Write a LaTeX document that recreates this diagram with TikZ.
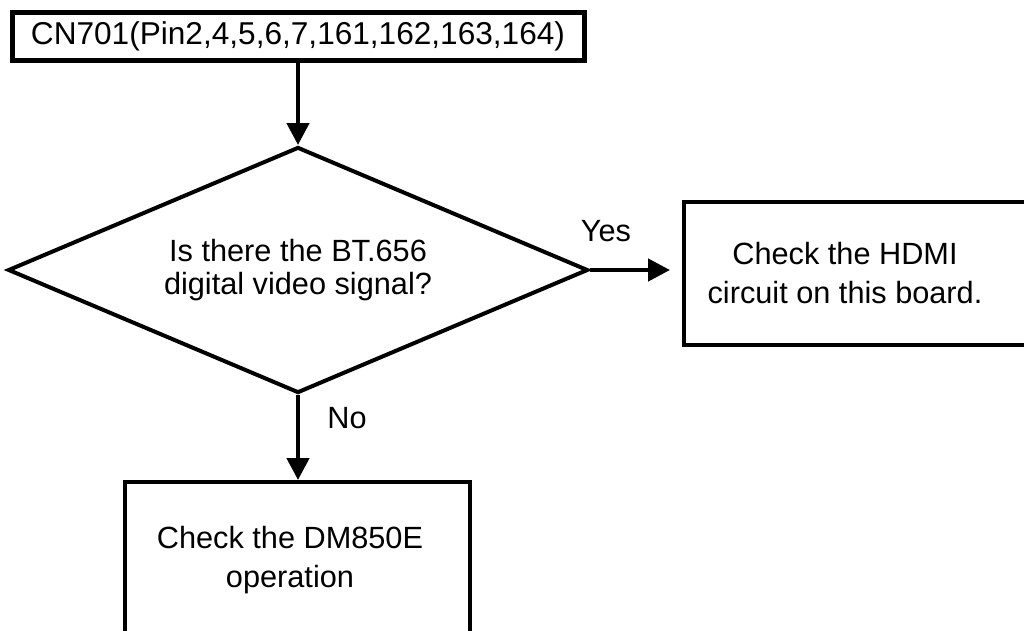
\documentclass[tikz,border=0pt]{standalone}
\usepackage{fontspec}
\setmainfont{Liberation Sans}
\usetikzlibrary{arrows.meta, shapes.geometric}

\tikzset{
  box/.style={draw, line width=4pt, inner sep=0pt},
  txt/.style={align=center, font=\fontsize{30.7}{39}\selectfont},
}

\begin{document}
\begin{tikzpicture}[x=1pt, y=-1pt, line width=4.5pt, >={Triangle[length=22pt,width=22pt]}]

        % page frame
        \useasboundingbox (0,0) rectangle (1024,630);

        % start box
        \node[box, line width=5pt, minimum width=572pt, minimum height=48pt, txt,
              font=\fontsize{31.6}{39}\selectfont] (cn) at (298,36.5) {CN701(Pin2,4,5,6,7,161,162,163,164)};

        % decision
        \node[diamond, draw, line width=4pt, shape aspect=2.36, minimum width=580pt, minimum height=246pt, inner sep=0pt,
              align=center, font=\fontsize{30.7}{33}\selectfont] (ask) at (298,270) {Is there the BT.656\\digital video signal?};

        % result boxes (cut by the page edge)
        \node[box, anchor=north west, minimum width=360pt, minimum height=143pt] (hdmi) at (682,200) {};
        \node[txt] (hdmitext) at (845,273) {Check the HDMI\\circuit on this board.};

        \node[box, anchor=north west, minimum width=345pt, minimum height=200pt] (dm) at (123,480) {};
        \node[txt] (dmtext) at (290,560) {Check the DM850E\\operation};

        % arrows
        \draw[->] (cn.south) -- (ask.north);
        \draw[->, shorten >=12pt] (ask.east) -- (ask.east -| hdmi.west);
        \draw[->] (ask.south) -- (ask.south |- dm.north);

        % branch labels
        \node[txt] (yes) at (606,231) {Yes};
        \node[txt] (no) at (347,418) {No};

\end{tikzpicture}
\end{document}
